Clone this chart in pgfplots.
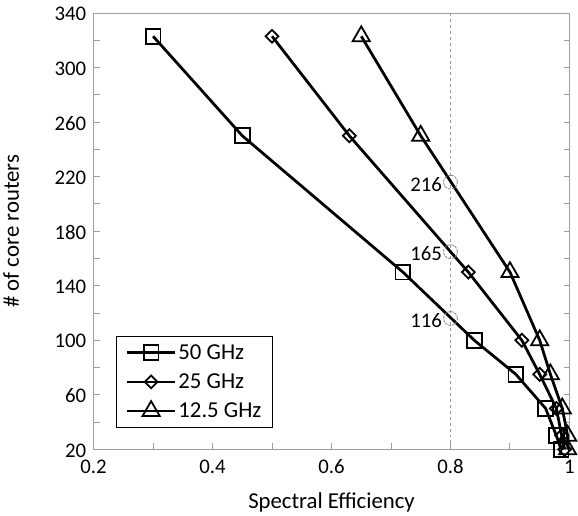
\documentclass[border=0pt]{standalone}
\usepackage{fontspec}
\setmainfont{Carlito}
\usepackage{pgfplots}
\pgfplotsset{compat=1.18}

\begin{document}
\begin{tikzpicture}
\begin{axis}[
    width=481pt, height=441pt, scale only axis,
    xmin=0.2, xmax=1, ymin=20, ymax=340,
    font=\fontsize{21}{25}\selectfont,
    /pgf/number format/assume math mode=true,
    axis line style={draw=gray!75, line width=1pt},
    tick style={gray!75, line width=1pt},
    major tick length=6pt, minor tick length=6pt,
    tick align=inside,
    xtick pos=bottom, ytick pos=both,
    xtick={0.2,0.4,0.6,0.8,1},
    minor xtick={0.3,0.5,0.7,0.9},
    ytick={20,60,...,340},
    minor ytick={40,80,...,320},
    xticklabel style={yshift=-7pt},
    yticklabel style={xshift=-4pt, yshift=-1pt},
    xlabel={Spectral Efficiency},
    ylabel={\# of core routers},
    label style={font=\fontsize{23}{27}\selectfont},
    xlabel shift=12pt,
    ylabel shift=29pt,
    clip=false,
    legend style={at={(0.048,0.05)}, anchor=south west, draw=black, line width=1pt,
        row sep=9pt, inner xsep=9pt, inner ysep=6pt,
        font=\fontsize{23}{27}\selectfont},
    legend cell align=left,
    legend image code/.code={\draw[mark repeat=2,mark phase=2,line width=2.8pt,#1] plot coordinates {(0cm,0cm) (0.85cm,0cm) (1.7cm,0cm)};},
    every axis plot/.append style={black, line width=2.8pt},
]
\addplot[gray!80, dashed, line width=1pt, forget plot] coordinates {(0.8,20) (0.8,340)};

\addplot[mark=square, mark size=7.5pt, mark options={fill=white, solid, line width=1.8pt}]
coordinates {(0.3,323) (0.45,250) (0.72,150) (0.84,100) (0.91,75) (0.96,50) (0.978,30) (0.986,20)};
\addlegendentry{50 GHz}

\addplot[mark=square, mark size=4.6pt, mark options={fill=white, solid, line width=1.8pt, rotate=45}]
coordinates {(0.5,323) (0.63,250) (0.83,150) (0.92,100) (0.95,75) (0.978,50) (0.987,30) (0.992,20)};
\addlegendentry{25 GHz}

\addplot[mark=triangle, mark size=10pt, mark options={fill=white, solid, line width=1.8pt}]
coordinates {(0.65,323) (0.75,250) (0.90,150) (0.95,100) (0.968,75) (0.988,50) (0.997,30) (0.997,20)};
\addlegendentry{12.5 GHz}

\addplot[only marks, mark=o, mark size=7pt, mark options={gray, densely dotted, line width=0.8pt},
    nodes near coords, point meta=explicit symbolic,
    every node near coord/.style={anchor=east, xshift=-5pt, yshift=-2pt, black, font=\fontsize{21}{25}\selectfont}, forget plot]
coordinates {(0.8,216) [216] (0.8,165) [165] (0.8,116) [116]};
\end{axis}
\path (current axis.outer north) ++(0,4pt);
\end{tikzpicture}
\end{document}
